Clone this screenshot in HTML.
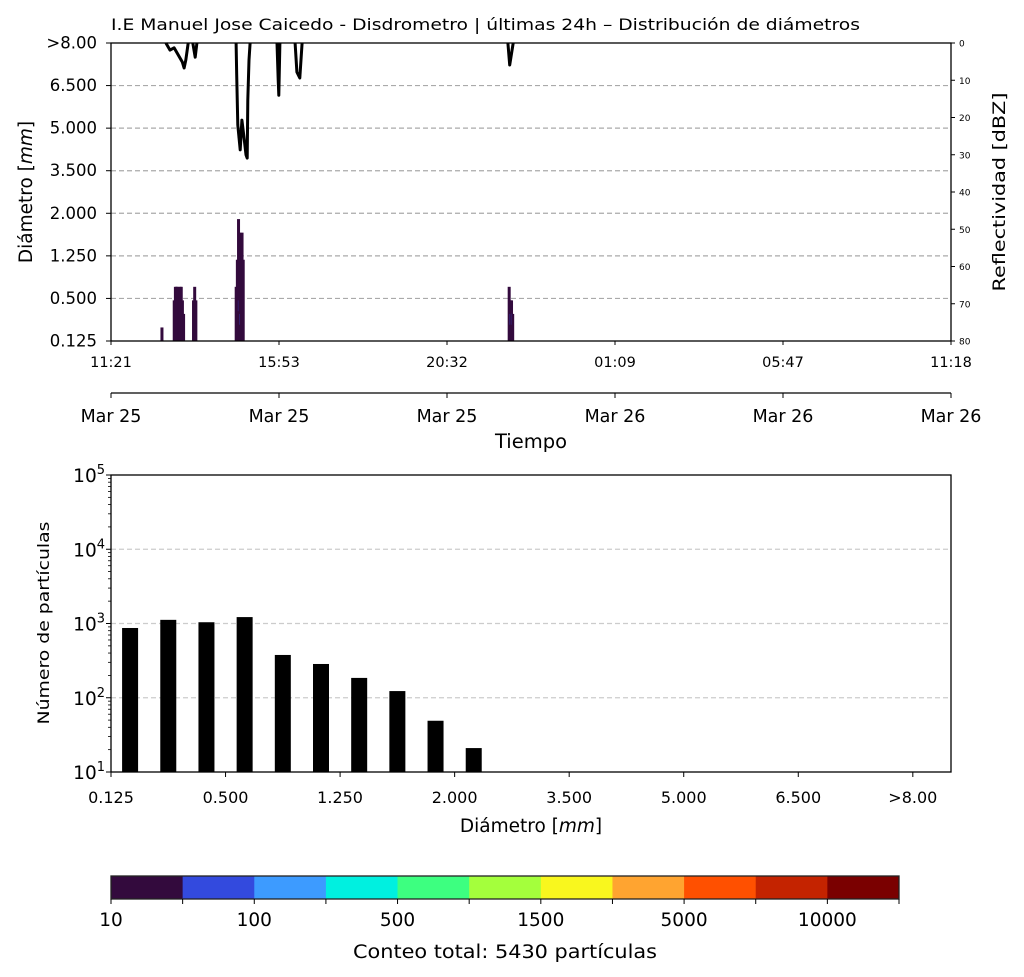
<!DOCTYPE html>
<html><head><meta charset="utf-8"><style>
body{margin:0;background:#fff;}
svg{display:block;font-family:"DejaVu Sans","Liberation Sans",sans-serif;}
</style></head><body>
<svg id="chart" width="1024" height="977" viewBox="0 0 1024 977"></svg>
<script>
// ---- data ----
const diamLabels = ["0.125","0.500","1.250","2.000","3.500","5.000","6.500",">8.00"];
const timeLabels = ["11:21","15:53","20:32","01:09","05:47","11:18"];
const dateLabels = ["Mar 25","Mar 25","Mar 25","Mar 26","Mar 26","Mar 26"];
const reflTicks = [0,10,20,30,40,50,60,70,80];
// heatmap columns: minutes since start, number of occupied diameter bins
const heatTimes = [87,108,110,112,114,116,118,120,122,124,141,143,145,214,216,218,220,222,224,226,681,683,685,687];
const heatTops  = [1,3,4,4,4,3,4,4,3,2,3,4,3,4,6,9,8,7,8,6,4,3,3,2];
const heatBlueLow = [0,0,0,0,0,0,0,0,0,0,0,0,0,0,0,3,2,0,0,0,0,2,2,0];
// reflectivity segments (minutes, dBZ)
const reflTimes = [[94,101,108,115,122,125,128,132],[140,144,147],[214,215,217,221,224,228,231,233,234,236,238],[284,286,287,289],[315,318,323,327],[679,682,688]];
const reflVals  = [[0,1.9,1.3,3.2,5.1,6.7,4.6,0],[0,3.8,0],[0,8.6,22,28.7,20.7,26,30,30.9,15.3,4.6,0],[0,9.9,14,0],[0,7.8,9.4,0],[0,5.9,0]];
// histogram
const histCounts = [870,1120,1040,1220,377,285,185,123,49,21,0,0,0,0,0,0,0,0,0,0,0,0];
const yDecades = [1,2,3,4,5];
const cbLabels = ["10","100","500","1500","5000","10000"];
const cbColors = ["#330a3d","#334ade","#3d9bff","#00f0e0","#3dff80","#a4ff3c","#f9f71e","#ffa430","#ff5000","#c42300","#7a0000"];

const svg = document.getElementById('chart');
const NS = "http://www.w3.org/2000/svg";
function mk(tag, attrs, parent, text){
  const e = document.createElementNS(NS, tag);
  for (const k in attrs) e.setAttribute(k, attrs[k]);
  if (text !== undefined) e.textContent = text;
  (parent||svg).appendChild(e);
  return e;
}

// ---- top panel ----
const TX0=111, TX1=951, TY0=43, TY1=341;
const totalMin = 1437;
const xT = m => TX0 + m/totalMin*(TX1-TX0);
const nBins = 22;
const binH = (TY1-TY0)/nBins;
const yRefl = d => TY0 + d/80*(TY1-TY0);

let t = mk('text',{x:111,y:30,'font-size':'16',textLength:'749',lengthAdjust:'spacingAndGlyphs'},svg,"I.E Manuel Jose Caicedo - Disdrometro | últimas 24h – Distribución de diámetros");
 

const topG = mk('g',{});


diamLabels.forEach((lab,i)=>{
  const y = TY1 - i*(TY1-TY0)/7;
  if(i>0 && i<7){
    const g = mk('line',{x1:TX0,x2:TX1,y1:y,y2:y,stroke:'#aaa','stroke-dasharray':'5,3','stroke-width':1.2},topG);
     
  }
  mk('line',{x1:TX0-5,x2:TX0,y1:y,y2:y,stroke:'#000'},topG);
  const tx = mk('text',{x:97,y:y+5.5,'font-size':'16.5','text-anchor':'end'},topG,lab);
   
});
heatTimes.forEach((m,i)=>{
  const x = xT(m);
  const r = mk('rect',{x:x-1.4,y:TY1-heatTops[i]*binH,width:3,height:heatTops[i]*binH,fill:'#330a3d'},topG);
   
  if(heatBlueLow[i]>0){
    const b = mk('rect',{x:x-0.5,y:TY1-heatBlueLow[i]*binH,width:1.4,height:binH*0.8,fill:'#334ade'},topG);
     
  }
});
reflTimes.forEach((ts,si)=>{
  const pts = ts.map((m,j)=>xT(m).toFixed(1)+','+yRefl(reflVals[si][j]).toFixed(1)).join(' ');
  const p = mk('polyline',{points:pts,fill:'none',stroke:'#000','stroke-width':3,'stroke-linejoin':'round'},topG);
   
});
mk('rect',{x:TX0,y:TY0,width:TX1-TX0,height:TY1-TY0,fill:'none',stroke:'#000','stroke-width':1.3},topG);
reflTicks.forEach(v=>{
  const y = yRefl(v);
  mk('line',{x1:TX1,x2:TX1+4,y1:y,y2:y,stroke:'#000'},topG);
  const tx = mk('text',{x:TX1+8,y:y+3.5,'font-size':'9'},topG,String(v));
   
});
t = mk('text',{transform:'translate(1005,192) rotate(-90)','font-size':'17','text-anchor':'middle',textLength:'199',lengthAdjust:'spacingAndGlyphs'},svg,"Reflectividad [dBZ]");
 
t = mk('text',{transform:'translate(32,192) rotate(-90)','font-size':'18.5','text-anchor':'middle'},svg);
t.innerHTML = 'Diámetro [<tspan font-style="italic">mm</tspan>]';
 
timeLabels.forEach((lab,i)=>{
  const x = TX0 + i*(TX1-TX0)/5;
  mk('line',{x1:x,x2:x,y1:TY1,y2:TY1+4,stroke:'#000'},topG);
  const tx = mk('text',{x:x,y:367,'font-size':'14.5','text-anchor':'middle'},topG,lab);
   
});
mk('line',{x1:TX0,x2:TX1,y1:393,y2:393,stroke:'#000','stroke-width':1.3},topG);
dateLabels.forEach((lab,i)=>{
  const x = TX0 + i*(TX1-TX0)/5;
  mk('line',{x1:x,x2:x,y1:393,y2:398,stroke:'#000'},topG);
  const tx = mk('text',{x:x,y:422,'font-size':'17.5','text-anchor':'middle'},topG,lab);
   
});
t = mk('text',{x:531,y:448,'font-size':'19.5','text-anchor':'middle'},svg,"Tiempo");
 

// ---- bottom panel ----
const BX0=111, BX1=951, BY0=475, BY1=772;
const yLog = v => BY1 - (Math.log10(v)-1)/4*(BY1-BY0);
const binW = (BX1-BX0)/nBins;
const botG = mk('g',{});


yDecades.forEach(d=>{
  const y = yLog(Math.pow(10,d));
  if(d>1 && d<5){
    const g = mk('line',{x1:BX0,x2:BX1,y1:y,y2:y,stroke:'#ccc','stroke-dasharray':'5,3','stroke-width':1.2},botG);
     
  }
  mk('line',{x1:BX0-5,x2:BX0,y1:y,y2:y,stroke:'#000'},botG);
  for(let k=2;k<10 && d<5;k++){
    const ym = yLog(k*Math.pow(10,d));
    mk('line',{x1:BX0-3,x2:BX0,y1:ym,y2:ym,stroke:'#000','stroke-width':0.8},botG);
  }
  const tx = mk('text',{x:BX0-6,y:y+7,'font-size':'18.5','text-anchor':'end'},botG);
  tx.innerHTML = '10<tspan dy="-8" font-size="13">'+d+'</tspan>';
   
});
histCounts.forEach((c,i)=>{
  if(c<=10) return;
  const cx = BX0 + (i+0.5)*binW;
  const y = yLog(c);
  const r = mk('rect',{x:cx-8,y:y,width:16,height:BY1-y,fill:'#000'},botG);
   
});
mk('rect',{x:BX0,y:BY0,width:BX1-BX0,height:BY1-BY0,fill:'none',stroke:'#000','stroke-width':1.3},botG);
diamLabels.forEach((lab,i)=>{
  const x = BX0 + i*3*binW;
  mk('line',{x1:x,x2:x,y1:BY1,y2:BY1+5,stroke:'#000'},botG);
  const tx = mk('text',{x:x,y:803,'font-size':'16','text-anchor':'middle'},botG,lab);
   
});
t = mk('text',{x:531,y:832,'font-size':'18.5','text-anchor':'middle'},svg);
t.innerHTML = 'Diámetro [<tspan font-style="italic">mm</tspan>]';
 
t = mk('text',{transform:'translate(49,623) rotate(-90)','font-size':'16','text-anchor':'middle',textLength:'203',lengthAdjust:'spacingAndGlyphs'},svg,"Número de partículas");
 

// ---- colorbar ----
const CX0=111, CX1=899, CY0=876, CY1=899;
const segW = (CX1-CX0)/cbColors.length;
const cbG = mk('g',{});


cbColors.forEach((c,i)=>{
  const r = mk('rect',{x:CX0+i*segW,y:CY0,width:segW+0.5,height:CY1-CY0,fill:c},cbG);
   
});
mk('rect',{x:CX0,y:CY0,width:CX1-CX0,height:CY1-CY0,fill:'none',stroke:'#222','stroke-width':1.3},cbG);
for(let i=0;i<=cbColors.length;i++){
  const x = CX0+i*segW;
  mk('line',{x1:x,x2:x,y1:CY1,y2:CY1+5,stroke:'#000'},cbG);
}
cbLabels.forEach((lab,i)=>{
  const x = CX0 + i*2*segW;
  const tx = mk('text',{x:x,y:926,'font-size':'18.5','text-anchor':'middle'},cbG,lab);
   
});
t = mk('text',{x:505,y:958,'font-size':'18.5','text-anchor':'middle',textLength:'304',lengthAdjust:'spacingAndGlyphs'},svg,"Conteo total: 5430 partículas");
 
</script>
</body></html>
